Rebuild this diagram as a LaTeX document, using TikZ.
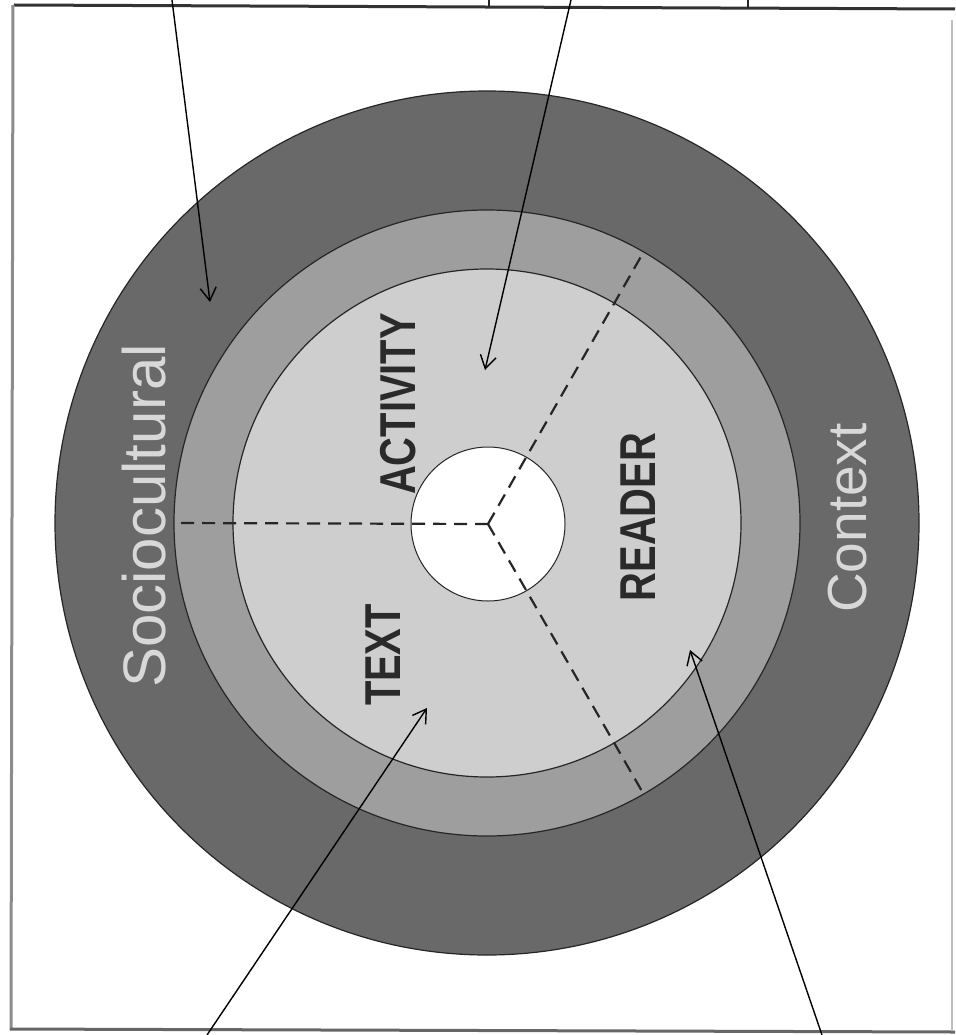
\documentclass[tikz,border=0pt]{standalone}
\usepackage{fontspec}
\setmainfont{Liberation Sans}
\usepackage{graphicx}
\usetikzlibrary{arrows.meta}
\definecolor{ringouter}{HTML}{696969}
\definecolor{ringmid}{HTML}{9E9E9E}
\definecolor{ringinner}{HTML}{CECECE}
\definecolor{lbllight}{HTML}{D8D8D8}
\definecolor{lbldark}{HTML}{2A2A2A}
\begin{document}
\begin{tikzpicture}[x=1pt,y=-1pt,
  ring/.style={circle,inner sep=0pt,draw=black!85,line width=1.2pt},
  divider/.style={draw=black!85,line width=2.2pt,dash pattern=on 13pt off 8pt},
  outerlbl/.style={rotate=90,inner sep=0pt,text=lbllight,font=\fontsize{60}{60}\selectfont},
  innerlbl/.style={rotate=90,inner sep=0pt,text=lbldark,font=\bfseries\fontsize{42}{42}\selectfont},
  pointer/.style={draw=black,line width=1.4pt,-{Straight Barb[length=13pt,width=16pt,line width=1.4pt]}},
  framel/.style={line width=3pt}]
\useasboundingbox (0,0) rectangle (955,1035);
\fill[white] (0,0) rectangle (955,1035);
% frame
\draw[framel,black!80] (14,5) -- (955,9);
\draw[black!85,line width=1.4pt] (489,0) -- (489,7);
\draw[black!85,line width=1.4pt] (748,0) -- (748,8);
\draw[framel,black!45] (13,5) -- (11,1030);
\draw[framel,black!60] (10,1029) -- (955,1032);
\draw[line width=1.5pt,black!25] (952,20) -- (952,1031);
% rings
\node[ring,fill=ringouter,minimum size=864pt] (outer) at (487,523) {};
\node[ring,fill=ringmid,minimum size=626pt] (middle) at (487,523) {};
\node[ring,fill=ringinner,minimum size=508pt] (inner) at (487,523) {};
\node[ring,fill=white,minimum size=154pt,line width=1pt] (hub) at (488,524) {};
% dividers
\coordinate (dL) at (175,523);
\coordinate (dUR) at (643,253);
\coordinate (dLR) at (643,793);
\draw[divider] (hub.center) -- (dL);
\draw[divider] (hub.center) -- (dUR);
\draw[divider] (hub.center) -- (dLR);
% labels
\node[outerlbl] (socio) at (144,516) {Sociocultural};
\node[outerlbl,font=\fontsize{55}{55}\selectfont] (context) at (848,518) {Context};
\node[innerlbl] (text) at (383,655) {\scalebox{0.95}[1.2]{TEXT}};
\node[innerlbl] (activity) at (398,404) {\scalebox{0.95}[1.2]{ACTIVITY}};
\node[innerlbl] (reader) at (638,517) {\scalebox{0.95}[1.2]{READER}};
% pointers
\coordinate (p1s) at (172,0);   \coordinate (p1e) at (210,302);
\coordinate (p2s) at (571,0);   \coordinate (p2e) at (485,370);
\coordinate (p3s) at (207,1035); \coordinate (p3e) at (427,708);
\coordinate (p4s) at (822,1035); \coordinate (p4e) at (690,650);
\draw[pointer] (p1s) -- (p1e);
\draw[pointer] (p2s) -- (p2e);
\draw[pointer] (p3s) -- (p3e);
\draw[pointer] (p4s) -- (p4e);
\end{tikzpicture}
\end{document}
